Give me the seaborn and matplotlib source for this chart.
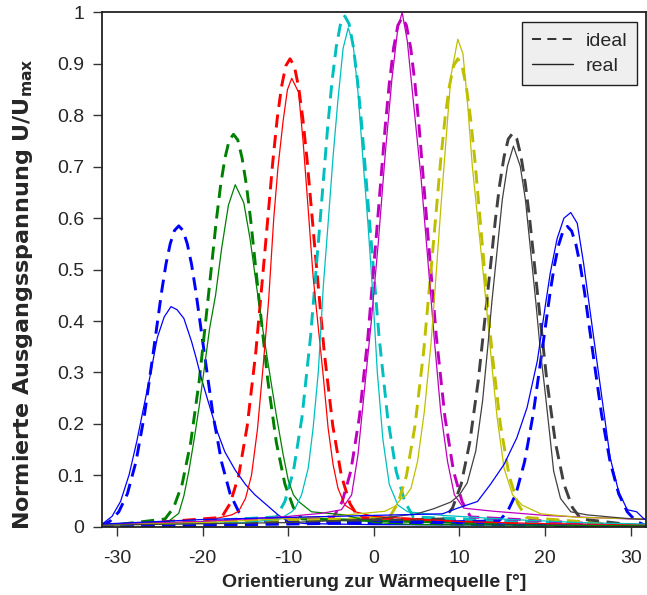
import matplotlib
matplotlib.use("Agg")
import matplotlib.pyplot as plt
from matplotlib.lines import Line2D
import seaborn as sns
import pandas as pd

# ---------------- data ----------------
# ideal (dashed) curves
ideal_blue_l_x = [-32, -30.8, -29.8, -28.8, -27.8, -26.8, -25.8, -24.8, -24.3, -23.8, -23.3, -22.8, -22.3, -21.8, -21.3, -20.8, -19.8, -18.8, -17.8, -16.8, -15.8, -14.8, 32]
ideal_blue_l_y = [0.0, 0.011, 0.029, 0.064, 0.126, 0.218, 0.336, 0.457, 0.510, 0.550, 0.576, 0.585, 0.576, 0.550, 0.510, 0.457, 0.336, 0.218, 0.126, 0.064, 0.029, 0.011, 0.0]

ideal_green_x = [-32, -24.4, -23.4, -22.4, -21.4, -20.4, -19.4, -18.4, -17.9, -17.4, -16.9, -16.4, -15.9, -15.4, -14.9, -14.4, -13.4, -12.4, -11.4, -10.4, -9.4, -8.4, 32]
ideal_green_y = [0.0, 0.015, 0.037, 0.083, 0.164, 0.285, 0.439, 0.597, 0.665, 0.717, 0.752, 0.763, 0.752, 0.717, 0.665, 0.597, 0.439, 0.285, 0.164, 0.083, 0.037, 0.015, 0.0]

ideal_red_x = [-32, -17.8, -16.8, -15.8, -14.8, -13.8, -12.8, -11.8, -11.3, -10.8, -10.3, -9.8, -9.3, -8.8, -8.3, -7.8, -6.8, -5.8, -4.8, -3.8, -2.8, -1.8, 32]
ideal_red_y = [0.0, 0.018, 0.045, 0.099, 0.196, 0.339, 0.523, 0.712, 0.793, 0.855, 0.896, 0.91, 0.896, 0.855, 0.793, 0.712, 0.523, 0.339, 0.196, 0.099, 0.045, 0.018, 0.0]

ideal_cyan_x = [-32, -11.4, -10.4, -9.4, -8.4, -7.4, -6.4, -5.4, -4.9, -4.4, -3.9, -3.4, -2.9, -2.4, -1.9, -1.4, -0.4, 0.6, 1.6, 2.6, 3.6, 4.6, 32]
ideal_cyan_y = [0.0, 0.019, 0.049, 0.108, 0.213, 0.370, 0.571, 0.777, 0.865, 0.933, 0.978, 0.993, 0.978, 0.933, 0.865, 0.777, 0.571, 0.370, 0.213, 0.108, 0.049, 0.019, 0.0]

ideal_magenta_x = [-32, -4.7, -3.7, -2.7, -1.7, -0.7, 0.3, 1.3, 1.8, 2.3, 2.8, 3.3, 3.8, 4.3, 4.8, 5.3, 6.3, 7.3, 8.3, 9.3, 10.3, 11.3, 32]
ideal_magenta_y = [0.0, 0.019, 0.049, 0.108, 0.213, 0.369, 0.569, 0.774, 0.862, 0.931, 0.975, 0.99, 0.975, 0.931, 0.862, 0.774, 0.569, 0.369, 0.213, 0.108, 0.049, 0.019, 0.0]

ideal_yellow_x = [-32, 1.8, 2.8, 3.8, 4.8, 5.8, 6.8, 7.8, 8.3, 8.8, 9.3, 9.8, 10.3, 10.8, 11.3, 11.8, 12.8, 13.8, 14.8, 15.8, 16.8, 17.8, 32]
ideal_yellow_y = [0.0, 0.018, 0.045, 0.099, 0.196, 0.339, 0.523, 0.712, 0.793, 0.855, 0.896, 0.91, 0.896, 0.855, 0.793, 0.712, 0.523, 0.339, 0.196, 0.099, 0.045, 0.018, 0.0]

ideal_gray_x = [-32, 8.2, 9.2, 10.2, 11.2, 12.2, 13.2, 14.2, 14.7, 15.2, 15.7, 16.2, 16.7, 17.2, 17.7, 18.2, 19.2, 20.2, 21.2, 22.2, 23.2, 24.2, 32]
ideal_gray_y = [0.0, 0.015, 0.037, 0.083, 0.164, 0.285, 0.440, 0.598, 0.666, 0.719, 0.754, 0.765, 0.754, 0.719, 0.666, 0.598, 0.440, 0.285, 0.164, 0.083, 0.037, 0.015, 0.0]

ideal_blue_r_x = [-32, 14.6, 15.6, 16.6, 17.6, 18.6, 19.6, 20.6, 21.1, 21.6, 22.1, 22.6, 23.1, 23.6, 24.1, 24.6, 25.6, 26.6, 27.6, 28.6, 29.6, 30.6, 32]
ideal_blue_r_y = [0.0, 0.011, 0.029, 0.064, 0.126, 0.218, 0.336, 0.457, 0.509, 0.549, 0.575, 0.584, 0.575, 0.549, 0.509, 0.457, 0.336, 0.218, 0.126, 0.064, 0.029, 0.011, 0.0]

# real (solid) curves
real_blue_l_x = [-32, -31.6, -30.6, -29.6, -28.6, -27.7, -26.9, -26.1, -25.3, -24.5, -23.7, -23.0, -22.2, -21.3, -20.8, -20.1, -19.3, -18.3, -17.4, -16.2, -15.0, -13.9, -12.3, -11.2, -10.0, -8.0, 0.0, 32]
real_blue_l_y = [0.004, 0.007, 0.02, 0.049, 0.101, 0.166, 0.232, 0.297, 0.368, 0.408, 0.428, 0.422, 0.405, 0.36, 0.33, 0.285, 0.24, 0.185, 0.145, 0.11, 0.082, 0.062, 0.039, 0.023, 0.01, 0.006, 0.004, 0.003]

real_green_x = [-32, -24, -23.8, -22.8, -22.2, -21.6, -21.0, -20.4, -19.8, -19.2, -18.5, -17.8, -17.0, -16.2, -15.2, -14.45, -13.7, -12.9, -12.1, -11.35, -10.6, -10.0, -9.4, -8.8, -7.3, -3.4, 0, 5, 32]
real_green_y = [0.003, 0.01, 0.013, 0.026, 0.06, 0.11, 0.17, 0.235, 0.31, 0.385, 0.45, 0.54, 0.625, 0.665, 0.63, 0.558, 0.466, 0.375, 0.29, 0.212, 0.14, 0.09, 0.062, 0.049, 0.029, 0.023, 0.008, 0.004, 0.002]

real_red_x = [-32, -20, -16.6, -15.8, -15.0, -14.3, -13.6, -12.9, -12.3, -11.7, -11.2, -10.6, -10.1, -9.6, -8.8, -8.26, -7.67, -7.1, -6.5, -5.9, -5.35, -4.77, -4.2, -3.4, -2.2, 0, 10, 20, 32]
real_red_y = [0.003, 0.01, 0.023, 0.03, 0.055, 0.1, 0.19, 0.32, 0.44, 0.6, 0.7, 0.79, 0.85, 0.872, 0.845, 0.747, 0.616, 0.486, 0.388, 0.29, 0.192, 0.121, 0.075, 0.042, 0.029, 0.02, 0.01, 0.006, 0.004]

real_cyan_x = [-32, -15, -11, -9.6, -9.2, -8.45, -7.67, -7.1, -6.5, -5.9, -5.35, -4.77, -4.2, -3.6, -3.0, -2.44, -1.86, -1.28, -0.7, -0.12, 0.4, 1.05, 1.8, 2.8, 3.95, 8, 16, 24, 32]
real_cyan_y = [0.003, 0.008, 0.015, 0.029, 0.036, 0.062, 0.114, 0.192, 0.3, 0.47, 0.59, 0.72, 0.83, 0.93, 0.97, 0.94, 0.845, 0.714, 0.59, 0.45, 0.3, 0.17, 0.082, 0.042, 0.029, 0.022, 0.014, 0.008, 0.005]

real_magenta_x = [-32, -20, -10, -6.1, -3.8, -2.6, -1.86, -1.08, -0.3, 0.5, 1.3, 2.1, 2.8, 3.3, 3.9, 4.7, 5.5, 6.3, 7.1, 7.8, 8.6, 9.4, 10.5, 14, 20, 25, 32]
real_magenta_y = [0.004, 0.01, 0.02, 0.026, 0.033, 0.062, 0.14, 0.27, 0.40, 0.55, 0.72, 0.87, 0.97, 1.0, 0.945, 0.812, 0.68, 0.519, 0.356, 0.225, 0.127, 0.062, 0.036, 0.03, 0.022, 0.018, 0.014]

real_yellow_x = [-32, -20, -5, 0, 1.3, 2.5, 3.2, 3.7, 4.34, 5.1, 5.9, 6.67, 7.25, 7.8, 8.4, 9.0, 9.8, 10.4, 10.9, 11.5, 12.1, 12.7, 13.26, 13.8, 14.4, 15.2, 16.2, 17.3, 19.5, 24, 32]
real_yellow_y = [0.003, 0.008, 0.02, 0.028, 0.03, 0.04, 0.055, 0.06, 0.075, 0.127, 0.225, 0.356, 0.486, 0.616, 0.747, 0.877, 0.948, 0.92, 0.832, 0.701, 0.603, 0.505, 0.408, 0.31, 0.212, 0.114, 0.062, 0.042, 0.025, 0.018, 0.015]

real_gray_x = [-32, -10, 0, 5, 7, 9, 10, 10.9, 11.9, 12.7, 13.26, 13.8, 14.4, 15.0, 15.6, 16.3, 17.1, 17.7, 18.3, 18.9, 19.45, 19.95, 20.5, 21.0, 21.8, 23.0, 24.9, 29.5, 32]
real_gray_y = [0.003, 0.008, 0.015, 0.025, 0.035, 0.048, 0.062, 0.085, 0.147, 0.245, 0.342, 0.44, 0.538, 0.636, 0.701, 0.74, 0.701, 0.636, 0.538, 0.44, 0.342, 0.27, 0.186, 0.108, 0.055, 0.029, 0.023, 0.016, 0.014]

real_blue_r_x = [-32, -20, 0, 8, 9.77, 12.1, 13.6, 15.2, 16.7, 17.9, 19.1, 20.0, 20.6, 21.4, 22.2, 23.0, 23.76, 24.5, 25.3, 26.1, 26.9, 27.6, 28.6, 29.6, 30.7, 31.5, 32]
real_blue_r_y = [0.005, 0.014, 0.022, 0.025, 0.036, 0.049, 0.082, 0.121, 0.173, 0.232, 0.323, 0.427, 0.493, 0.56, 0.6, 0.611, 0.59, 0.512, 0.414, 0.316, 0.219, 0.134, 0.068, 0.033, 0.029, 0.016, 0.012]

colors = {
    "blue": "#0000ff", "green": "#008000", "red": "#ff0000", "cyan": "#00bfbf",
    "magenta": "#bf00bf", "yellow": "#bfbf00", "gray": "#404040",
}

ideal_curves = [
    ("blue", ideal_blue_l_x, ideal_blue_l_y),
    ("green", ideal_green_x, ideal_green_y),
    ("red", ideal_red_x, ideal_red_y),
    ("cyan", ideal_cyan_x, ideal_cyan_y),
    ("magenta", ideal_magenta_x, ideal_magenta_y),
    ("yellow", ideal_yellow_x, ideal_yellow_y),
    ("gray", ideal_gray_x, ideal_gray_y),
    ("blue", ideal_blue_r_x, ideal_blue_r_y),
]
real_curves = [
    ("blue", real_blue_l_x, real_blue_l_y),
    ("green", real_green_x, real_green_y),
    ("red", real_red_x, real_red_y),
    ("cyan", real_cyan_x, real_cyan_y),
    ("magenta", real_magenta_x, real_magenta_y),
    ("yellow", real_yellow_x, real_yellow_y),
    ("gray", real_gray_x, real_gray_y),
    ("blue", real_blue_r_x, real_blue_r_y),
]

x_ticks = [-30, -20, -10, 0, 10, 20, 30]
y_ticks = [0, 0.1, 0.2, 0.3, 0.4, 0.5, 0.6, 0.7, 0.8, 0.9, 1]
y_tick_labels = ["0", "0.1", "0.2", "0.3", "0.4", "0.5", "0.6", "0.7", "0.8", "0.9", "1"]

# ---------------- plot ----------------
sns.set_theme(style="white")
plt.rcParams["font.family"] = ["Liberation Sans", "DejaVu Sans"]
plt.rcParams["mathtext.fontset"] = "custom"
plt.rcParams["mathtext.rm"] = "DejaVu Sans"
plt.rcParams["mathtext.bf"] = "DejaVu Sans:bold"

fig = plt.figure(figsize=(6.47, 5.95), dpi=100)
ax = fig.add_axes([0.1572, 0.1148, 0.8414, 0.8642])

for name, xs, ys in ideal_curves:
    df = pd.DataFrame({"x": xs, "y": ys})
    sns.lineplot(data=df, x="x", y="y", ax=ax, color=colors[name], linewidth=2.1,
                 linestyle=(0, (4.5, 2.6)), sort=False, estimator=None)
for name, xs, ys in real_curves:
    df = pd.DataFrame({"x": xs, "y": ys})
    sns.lineplot(data=df, x="x", y="y", ax=ax, color=colors[name], linewidth=0.9,
                 sort=False, estimator=None)

ax.set_xlim(-31.8, 31.8)
ax.set_ylim(0, 1)
ax.set_xticks(x_ticks)
ax.set_xticklabels([str(t) for t in x_ticks])
ax.set_yticks(y_ticks)
ax.set_yticklabels(y_tick_labels)
ax.tick_params(axis="both", which="both", direction="out", length=6.5, width=1.0,
               color="#333333", labelsize=14, bottom=True, left=True)
ax.tick_params(axis="x", pad=10)
ax.tick_params(axis="y", pad=6)
for s in ax.spines.values():
    s.set_color("#222222")
    s.set_linewidth(1.3)

ax.set_xlabel("Orientierung zur Wärmequelle [°]", fontsize=14, fontweight="bold", labelpad=5)
ax.set_ylabel(r"Normierte Ausgangsspannung U/U$_{\mathbf{max}}$", fontsize=16,
              fontweight="bold", family="DejaVu Sans")
ax.yaxis.set_label_coords(-0.122, 0.452)

handles = [
    Line2D([], [], color="#222222", linewidth=1.3, linestyle=(0, (5, 3.5))),
    Line2D([], [], color="#222222", linewidth=1.0),
]
leg = ax.legend(handles, ["ideal", "real"], loc="upper right",
                bbox_to_anchor=(0.983, 0.981), borderaxespad=0, fontsize=14,
                frameon=True, fancybox=False, handlelength=2.1, handletextpad=0.65,
                labelspacing=0.4, borderpad=0.5)
leg.get_frame().set_facecolor("#efefef")
leg.get_frame().set_edgecolor("#222222")
leg.get_frame().set_linewidth(1.0)
leg.get_frame().set_alpha(1)

fig.savefig("out.png", dpi=100)
